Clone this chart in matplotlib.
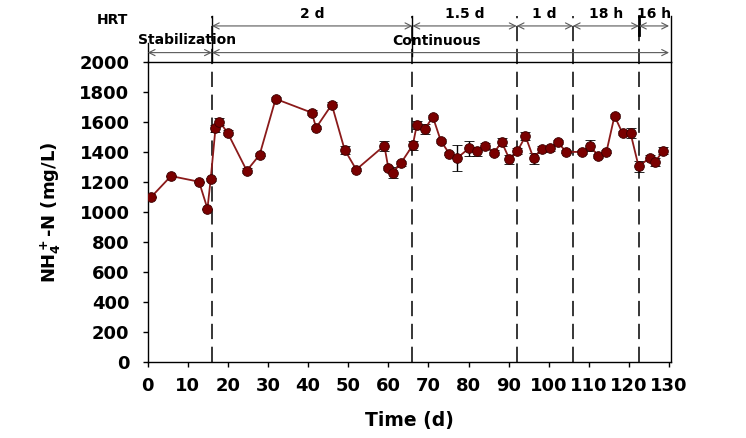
import matplotlib
matplotlib.use('Agg')
import matplotlib.pyplot as plt

# NH4+-N over time
time_d = [0.8, 5.8, 12.8, 14.9, 15.7, 16.9, 17.9, 19.9, 24.7, 27.9,
          31.9, 40.9, 42.0, 45.9, 49.1, 52.0, 59.0, 60.0, 61.1, 63.1,
          66.1, 67.1, 69.1, 71.1, 73.1, 75.2, 77.2, 80.1, 82.1, 84.2,
          86.3, 88.3, 90.2, 92.2, 94.2, 96.2, 98.3, 100.3, 102.3, 104.3,
          108.3, 110.3, 112.3, 114.4, 116.4, 118.4, 120.4, 122.4, 125.3, 126.5,
          128.5]
nh4 = [1098, 1240, 1202, 1022, 1218, 1559, 1603, 1530, 1276, 1381,
       1755, 1663, 1563, 1717, 1416, 1283, 1443, 1294, 1263, 1325,
       1446, 1581, 1554, 1635, 1474, 1390, 1361, 1425, 1407, 1443,
       1396, 1466, 1352, 1407, 1506, 1359, 1421, 1425, 1466, 1401,
       1401, 1443, 1374, 1403, 1641, 1526, 1526, 1305, 1363, 1332,
       1410]
nh4_err = [0, 0, 0, 0, 12, 22, 22, 18, 15, 10,
           15, 18, 12, 18, 27, 12, 33, 15, 38, 15,
           30, 25, 35, 15, 15, 12, 89, 48, 30, 15,
           15, 25, 31, 22, 25, 37, 20, 15, 12, 10,
           12, 36, 12, 12, 15, 15, 33, 36, 15, 28,
           23]

# operating phases
phase_bounds = [0, 16, 130]
phase_labels = ['Stabilization', 'Continuous']
hrt_bounds = [16, 66, 92, 106, 122.5, 130]
hrt_labels = ['2 d', '1.5 d', '1 d', '18 h', '16 h']

plt.rcParams['font.family'] = 'DejaVu Sans'
plt.rcParams['font.weight'] = 'bold'
plt.rcParams['mathtext.default'] = 'bf'

fig = plt.figure(figsize=(7.46, 4.38), dpi=100)
ax = fig.add_axes([0.198, 0.174, 0.701, 0.684])

ax.errorbar(time_d, nh4, yerr=nh4_err, fmt='o-', color='#8b1a1a', lw=1.3,
            ms=7, mfc='#7a0000', mec='#3a0000', mew=0.6,
            ecolor='black', elinewidth=1, capsize=3.8, capthick=1, zorder=3)

ax.set_xlim(0, 130.4)
ax.set_ylim(0, 2000)
ax.set_xticks(range(0, 131, 10))
ax.set_yticks(range(0, 2001, 200))
ax.tick_params(direction='out', length=3.6, width=1, labelsize=13)
ax.tick_params(axis='x', pad=7)
ax.tick_params(axis='y', pad=9.5)
for s in ax.spines.values():
    s.set_linewidth(1)

ax.set_xlabel('Time (d)', fontsize=13.5, fontweight='bold', labelpad=12)
ax.set_ylabel(r'NH$_4^+$-N (mg/L)', fontsize=13, fontweight='bold', labelpad=12)

top = 2309
# phase boundaries, dashed through the plot and on up into the header
for b in hrt_bounds[:-1]:
    ax.plot([b, b], [0, top], ls=(0, (10, 5)), color='black', lw=1.1,
            clip_on=False, zorder=2)
ax.plot([0, 0], [2000, 2129], color='black', lw=1, clip_on=False)
ax.plot([16, 16], [2000, top], color='black', lw=1, clip_on=False)
ax.plot([66, 66], [2040, top], color='black', lw=1, clip_on=False)
ax.plot([130.4, 130.4], [2000, top], color='black', lw=1, clip_on=False)
ax.plot([122.5, 122.5], [2180, top], color='black', lw=2, clip_on=False)

arrow = dict(arrowstyle='<->', color='0.35', lw=0.8,
             shrinkA=0, shrinkB=0, mutation_scale=11)

# Stabilization / Continuous row
for i, lab in enumerate(phase_labels):
    x0, x1 = phase_bounds[i], phase_bounds[i + 1]
    ax.annotate('', xy=(x1, 2064), xytext=(x0, 2064), arrowprops=arrow,
                annotation_clip=False)
ax.text(9.7, 2145, phase_labels[0], ha='center', va='center', fontsize=10,
        fontweight='bold', clip_on=False)
ax.text(72, 2142, phase_labels[1], ha='center', va='center', fontsize=10,
        fontweight='bold', clip_on=False)

# HRT row
for i, lab in enumerate(hrt_labels):
    x0, x1 = hrt_bounds[i], hrt_bounds[i + 1]
    ax.annotate('', xy=(x1, 2242), xytext=(x0, 2242), arrowprops=arrow,
                annotation_clip=False)
    ax.text((x0 + x1) / 2, 2323, lab, ha='center', va='center', fontsize=10,
            fontweight='bold', clip_on=False)
ax.text(-8.9, 2282, 'HRT', ha='center', va='center', fontsize=10,
        fontweight='bold', clip_on=False)

fig.savefig('out.png', dpi=100)
